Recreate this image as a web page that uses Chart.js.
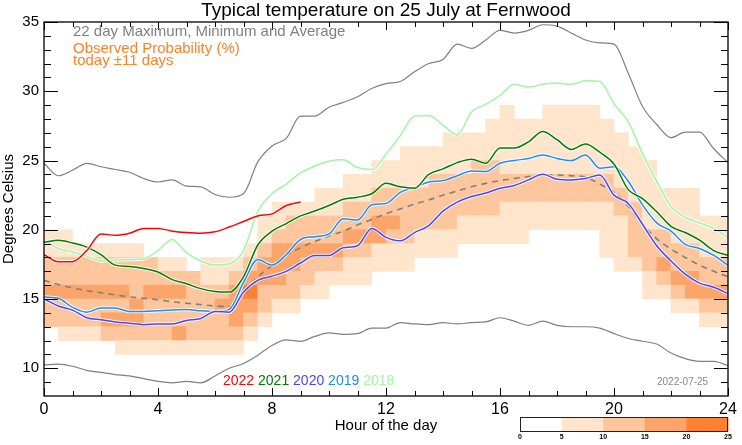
<!DOCTYPE html>
<html lang="en">
<head>
<meta charset="UTF-8">
<title>Typical temperature on 25 July at Fernwood</title>
<script src="https://cdn.jsdelivr.net/npm/chart.js"></script>
<style>
  html, body { margin: 0; padding: 0; background: #fff; }
  #wrap { width: 742px; height: 445px; position: relative; }
</style>
</head>
<body>
<div id="wrap"><canvas id="chart"></canvas></div>
<script>
// half-hour sample times
const hours = [0, 0.5, 1, 1.5, 2, 2.5, 3, 3.5, 4, 4.5, 5, 5.5, 6, 6.5, 7, 7.5, 8, 8.5, 9, 9.5, 10, 10.5, 11, 11.5,
  12, 12.5, 13, 13.5, 14, 14.5, 15, 15.5, 16, 16.5, 17, 17.5, 18, 18.5, 19, 19.5, 20, 20.5, 21, 21.5, 22, 22.5, 23, 23.5, 24];

// 22 day max / min / average
const maxTemp = [24.8, 23.9, 24.3, 24.8, 24.55, 24.35, 24.15, 23.7, 23.45, 23.6, 23.15, 23.1, 22.55, 22.35, 22.6, 24.9,
  26.05, 26.6, 28.2, 28.2, 28.85, 29.2, 29.6, 30.2, 30.55, 30.7, 31.4, 32.0, 32.3, 33.4, 33.1, 33.7, 34.4, 34.2,
  34.4, 34.8, 34.7, 34.2, 33.7, 33.5, 33.4, 31.3, 28.9, 27.6, 26.65, 27.05, 27.05, 25.85, 24.85];
const minTemp = [10.25, 10.3, 10.15, 9.85, 9.7, 9.55, 9.45, 9.25, 9.05, 8.95, 9.05, 8.95, 9.45, 10.0, 10.35, 10.95,
  11.65, 12.05, 11.95, 12.3, 12.55, 12.45, 12.5, 12.9, 12.9, 13.3, 13.2, 13.15, 13.3, 13.2, 13.3, 13.35, 13.65, 13.4,
  13.1, 13.4, 13.1, 13.0, 13.0, 12.9, 12.5, 12.15, 11.95, 11.75, 11.1, 10.7, 10.5, 10.5, 10.2];
const avgTemp = [16.35, 16.05, 15.8, 15.6, 15.45, 15.3, 15.15, 15.05, 14.95, 14.8, 14.7, 14.6, 14.5, 14.45, 15.3, 16.6,
  17.4, 18.15, 18.7, 19.15, 19.55, 19.9, 20.35, 20.75, 21.15, 21.5, 21.85, 22.15, 22.5, 22.8, 23.1, 23.35, 23.55, 23.7,
  23.85, 23.95, 23.95, 23.9, 23.8, 23.3, 22.7, 21.7, 20.4, 19.35, 18.6, 18.0, 17.45, 17.0, 16.6];

// individual years
const t2022 = [18.2, 17.7, 17.7, 18.5, 19.7, 19.6, 19.75, 20.1, 20.1, 19.9, 19.8, 19.75, 19.85, 20.2, 20.6, 21.0,
  21.15, 21.75, 22.0];
const t2021 = [19.1, 19.25, 19.05, 18.75, 18.2, 17.45, 17.35, 17.2, 16.95, 16.4, 16.1, 15.75, 15.55, 15.5, 16.6, 18.9,
  19.9, 20.45, 21.0, 21.35, 21.75, 22.2, 22.35, 22.6, 23.35, 23.1, 23.0, 24.0, 24.4, 24.85, 25.1, 24.8, 25.9, 25.9,
  26.35, 27.1, 26.5, 25.8, 26.2, 25.6, 24.75, 22.9, 22.25, 21.3, 20.25, 19.8, 19.25, 18.5, 18.15];
const t2020 = [15.0, 14.5, 14.2, 13.65, 13.5, 13.35, 13.25, 13.15, 13.2, 13.2, 13.45, 13.6, 14.1, 14.05, 15.5, 16.35,
  16.65, 17.0, 17.6, 18.15, 18.15, 18.7, 18.85, 20.1, 19.45, 19.2, 19.8, 20.3, 21.35, 22.0, 22.4, 22.65, 23.0, 23.2,
  23.6, 24.0, 23.65, 23.6, 23.7, 23.95, 22.5, 21.9, 20.4, 18.85, 17.75, 16.8, 16.15, 15.85, 15.4];
const t2019 = [15.15, 15.05, 14.4, 14.05, 14.35, 14.35, 14.1, 14.1, 14.15, 14.2, 14.25, 14.15, 14.1, 14.25, 16.2, 17.85,
  17.45, 18.2, 19.3, 19.5, 19.7, 20.8, 20.7, 21.8, 21.9, 22.7, 23.05, 23.45, 23.55, 23.9, 24.25, 24.2, 24.8, 25.0,
  25.15, 25.4, 25.15, 25.0, 25.4, 24.45, 24.55, 23.5, 21.8, 20.5, 19.9, 18.95, 18.65, 18.15, 17.45];
const t2018 = [19.25, 18.65, 18.4, 18.1, 17.75, 17.8, 17.85, 17.9, 18.5, 19.3, 18.35, 17.75, 17.45, 17.55, 18.5, 21.3,
  22.6, 23.3, 24.1, 24.6, 24.95, 25.05, 24.5, 24.35, 25.45, 26.8, 28.2, 28.25, 27.55, 26.85, 28.5, 29.05, 29.7, 30.5,
  30.3, 30.5, 30.6, 30.5, 30.75, 30.7, 29.1, 27.8, 25.5, 23.5, 21.7, 20.9, 20.5, 20.1, 19.45];

// probability cells: one string per half-hour column, one digit per 1 degree row (bottom 11 .. 28)
// digit = band index: 0 (<5%), 1 (5-10), 2 (10-15), 3 (15-20), 4 (20-25)
const rowTemps = [11, 12, 13, 14, 15, 16, 17, 18, 19, 20, 21, 22, 23, 24, 25, 26, 27, 28];
const probCols = [
  '002232211000000000', '012232211000000000', '012232210000000000', '012232210000000000',
  '023232210000000000', '123232210000000000', '123322210000000000', '122232200000000000',
  '122232100000000000', '132232100000000000', '122222000000000000', '122221100000000000',
  '122321100000000000', '123332100000000000', '012343210000000000', '001223321100000000',
  '000123332110000000', '000122332210000000', '000012232210000000', '000011232211000000',
  '000001232211000000', '000001123221100000', '000001123221100000', '000000113322110000',
  '000000112322110000', '000000112222111000', '000000011222111000', '000000011222211000',
  '000000011222211100', '000000001122211100', '000000001122221100', '000000001122221110',
  '000000001112211111', '000000001112211110', '000000000112211110', '000000000112211111',
  '000000000112211111', '000000000112211111', '000000000112211111', '000000011112211110',
  '000000111122111100', '000000122221111000', '000011222111110000', '000012322111000000',
  '000123221111000000', '000133221111000000', '001232211100000000', '001232211100000000'
];
const bandEdges = [0, 5, 10, 15, 20, 25];
const bandColors = ['#ffffff', '#fee5cc', '#fdc69c', '#fca56a', '#fd8133'];

const xTicks = [0, 4, 8, 12, 16, 20, 24];
const yTicks = [10, 15, 20, 25, 30, 35];

const years = ['2022', '2021', '2020', '2019', '2018'];
const yearColors = ['#ff0000', '#007d00', '#4646ff', '#1e8cff', '#a2f5a2'];
const yearSeries = [t2022, t2021, t2020, t2019, t2018];

const FONT = '"Liberation Sans", Arial, Helvetica, sans-serif';

function pts(vals) {
  return vals.map((v, i) => ({ x: hours[i], y: v }));
}

// heatmap bars, one dataset per temperature row
const cellSets = rowTemps.map((t, r) => {
  const data = [], colors = [];
  probCols.forEach((col, c) => {
    const lev = +col[r];
    if (lev > 0) {
      data.push({ x: c * 0.5 + 0.25, y: [t, t + 1] });
      colors.push(bandColors[lev]);
    }
  });
  return {
    type: 'bar', data: data, backgroundColor: colors, borderWidth: 0,
    barPercentage: 1, categoryPercentage: 1, grouped: false, order: 100
  };
});

const grayLines = [
  { type: 'line', data: pts(maxTemp), borderColor: '#808080', borderWidth: 1.2, order: 50 },
  { type: 'line', data: pts(minTemp), borderColor: '#808080', borderWidth: 1.2, order: 50 },
  { type: 'line', data: pts(avgTemp), borderColor: '#808080', borderWidth: 1.6, borderDash: [6, 5], order: 49 }
];

const yearLines = [];
yearSeries.forEach((vals, k) => {
  yearLines.push({ type: 'line', data: pts(vals), borderColor: 'rgba(255,255,255,0.85)', borderWidth: 3.4, order: 2 * k + 1 });
  yearLines.push({ type: 'line', data: pts(vals), borderColor: yearColors[k], borderWidth: 1.5, order: 2 * k });
});

const decor = {
  id: 'decor',
  afterDatasetsDraw(chart) {
    const { ctx, chartArea: a, scales: { x, y } } = chart;
    ctx.save();
    ctx.strokeStyle = '#000';
    ctx.lineWidth = 1;
    ctx.beginPath();
    for (let h = 0; h <= 24; h++) {
      const px = Math.round(x.getPixelForValue(h)) + 0.5;
      const len = h % 4 ? 5 : 8;
      ctx.moveTo(px, a.bottom); ctx.lineTo(px, a.bottom - len);
      ctx.moveTo(px, a.top); ctx.lineTo(px, a.top + len);
    }
    for (let t = 9; t <= 35; t++) {
      const py = Math.round(y.getPixelForValue(t)) + 0.5;
      const len = t % 5 ? 7 : 14;
      ctx.moveTo(a.left, py); ctx.lineTo(a.left + len, py);
      ctx.moveTo(a.right, py); ctx.lineTo(a.right - len, py);
    }
    ctx.stroke();
    ctx.lineWidth = 1.3;
    ctx.strokeRect(a.left, a.top, a.right - a.left, a.bottom - a.top);
    ctx.restore();
  },
  afterDraw(chart) {
    const { ctx, chartArea: a } = chart;
    ctx.save();
    ctx.textBaseline = 'alphabetic';

    ctx.fillStyle = '#000';
    ctx.textAlign = 'center';
    ctx.font = '19px ' + FONT;
    ctx.fillText('Typical temperature on 25 July at Fernwood', (a.left + a.right) / 2, 15.5);

    ctx.textAlign = 'left';
    ctx.font = '15px ' + FONT;
    ctx.fillStyle = '#808080';
    ctx.fillText('22 day Maximum, Minimum and Average', 73, 35.5);
    ctx.fillStyle = '#ff7f27';
    ctx.fillText('Observed Probability (%)', 73, 53);
    ctx.fillText('today \u00b111 days', 73, 64.5);

    // year key
    ctx.font = '14px ' + FONT;
    let xp = 223;
    years.forEach((yr, k) => {
      ctx.fillStyle = yearColors[k];
      ctx.fillText(yr, xp, 385);
      xp += ctx.measureText(yr + ' ').width;
    });

    ctx.fillStyle = '#8a8a8a';
    ctx.font = '10px ' + FONT;
    ctx.fillText('2022-07-25', 657, 385);

    // colour bar
    const bx0 = 520, bx1 = a.right, by = 417, bh = 14;
    const seg = (bx1 - bx0) / (bandEdges.length - 1);
    bandColors.forEach((c, i) => {
      ctx.fillStyle = c;
      ctx.fillRect(bx0 + i * seg, by, seg + 0.5, bh);
    });
    ctx.strokeStyle = '#222';
    ctx.lineWidth = 1;
    ctx.strokeRect(bx0 + 0.5, by + 0.5, bx1 - bx0 - 1, bh);
    ctx.fillStyle = '#000';
    ctx.font = 'bold 7px ' + FONT;
    ctx.textAlign = 'center';
    bandEdges.forEach((v, i) => ctx.fillText(String(v), bx0 + i * seg, 439));
    ctx.restore();
  }
};

new Chart(document.getElementById('chart'), {
  type: 'line',
  data: { datasets: [...yearLines, ...grayLines, ...cellSets] },
  options: {
    responsive: true,
    maintainAspectRatio: false,
    animation: false,
    events: [],
    layout: { padding: { top: 22, right: 14, left: 0, bottom: 0 } },
    elements: {
      point: { radius: 0 },
      line: { cubicInterpolationMode: 'monotone', fill: false }
    },
    plugins: { legend: { display: false }, tooltip: { enabled: false }, title: { display: false } },
    scales: {
      x: {
        type: 'linear', min: 0, max: 24, offset: false,
        grid: { display: false, drawTicks: false }, border: { display: false },
        afterBuildTicks: s => { s.ticks = xTicks.map(v => ({ value: v })); },
        afterFit: s => { s.height = 49; },
        ticks: { padding: 4, color: '#000', font: { family: FONT, size: 16 }, maxRotation: 0 },
        title: { display: true, text: 'Hour of the day', color: '#000', font: { family: FONT, size: 15, lineHeight: 1.2 }, padding: { top: 0, bottom: 10 } }
      },
      y: {
        type: 'linear', min: 8, max: 35,
        grid: { display: false, drawTicks: false }, border: { display: false },
        afterBuildTicks: s => { s.ticks = yTicks.map(v => ({ value: v })); },
        afterFit: s => { s.width = 44; },
        ticks: { padding: 5, color: '#000', font: { family: FONT, size: 15 } },
        title: { display: true, text: 'Degrees Celsius', color: '#000', font: { family: FONT, size: 15, lineHeight: 1.2 }, padding: 0 }
      }
    }
  },
  plugins: [decor]
});
</script>
</body>
</html>
